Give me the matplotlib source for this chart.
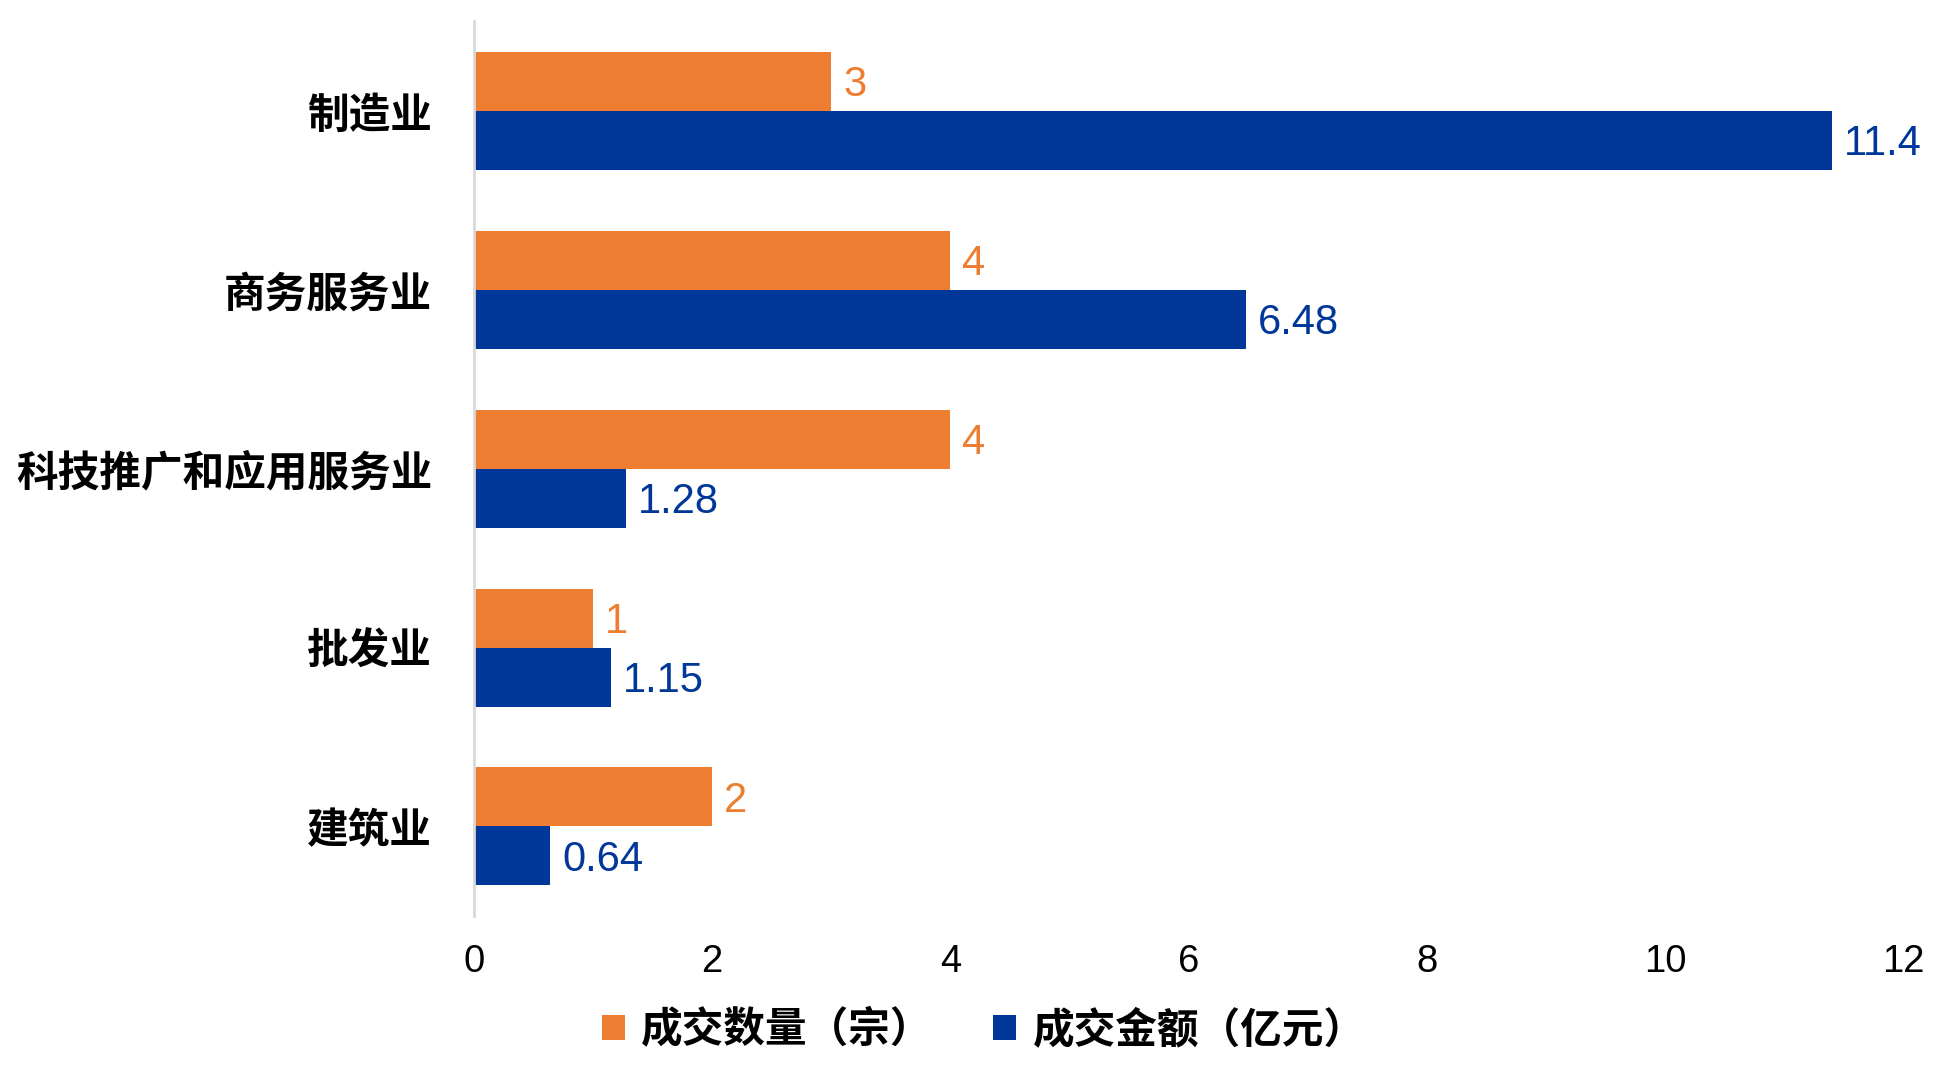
import matplotlib

matplotlib.use("Agg")

import matplotlib.pyplot as plt
import numpy as np

plt.rcParams["font.family"] = ["Liberation Sans", "Noto Sans CJK SC", "DejaVu Sans"]

categories = ["制造业", "商务服务业", "科技推广和应用服务业", "批发业", "建筑业"]
deal_count = [3, 4, 4, 1, 2]            # 成交数量（宗）
deal_amount = [11.4, 6.48, 1.28, 1.15, 0.64]  # 成交金额（亿元）
count_labels = ["3", "4", "4", "1", "2"]
amount_labels = ["11.4", "6.48", "1.28", "1.15", "0.64"]

ORANGE = "#ED7D31"
BLUE = "#003799"
CJK = ["Noto Sans CJK SC", "DejaVu Sans"]

fig = plt.figure(figsize=(19.5, 10.75), dpi=100)
ax = fig.add_axes([0.243, 0.148, 0.733, 0.832])

y = np.arange(len(categories))
h = 0.33
ax.barh(y - h / 2, deal_count, height=h, color=ORANGE, label="成交数量（宗）")
ax.barh(y + h / 2, deal_amount, height=h, color=BLUE, label="成交金额（亿元）")

for i in range(len(categories)):
    ax.text(deal_count[i] + 0.1, y[i] - h / 2 + 0.02, count_labels[i], va="center",
            ha="left", color=ORANGE, fontsize=30)
    ax.text(deal_amount[i] + 0.1, y[i] + h / 2 + 0.02, amount_labels[i], va="center",
            ha="left", color=BLUE, fontsize=30)

ax.set_ylim(len(categories) - 0.5, -0.5)
ax.set_xlim(0, 12)
ax.set_xticks(range(0, 13, 2))
ax.tick_params(axis="x", length=0, labelsize=27.5, pad=20)
ax.tick_params(axis="y", length=0, pad=30)
ax.set_yticks(y)
ax.set_yticklabels(categories, family=CJK, fontweight="heavy", fontsize=30)

for s in ["top", "right", "bottom"]:
    ax.spines[s].set_visible(False)
ax.spines["left"].set_color("#D9D9D9")
ax.spines["left"].set_linewidth(2)

fig.legend(loc="center", bbox_to_anchor=(0.5045, 0.042), ncol=2, frameon=False,
           prop={"family": CJK, "weight": "heavy", "size": 30},
           handlelength=0.55, handleheight=0.55, handletextpad=0.4, columnspacing=1.45)

fig.savefig("out.png")
